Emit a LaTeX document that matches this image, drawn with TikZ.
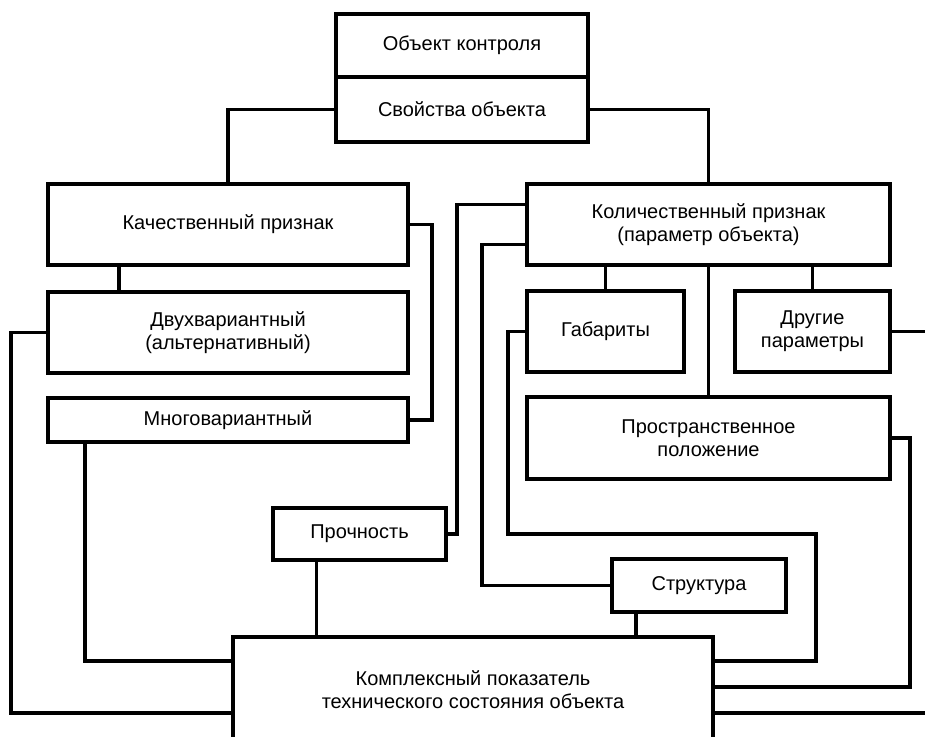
\documentclass[tikz,border=0pt]{standalone}
\usepackage{fontspec}
\setmainfont{Liberation Sans}
\usepackage{tikz}
\usetikzlibrary{positioning,calc}
\newcommand{\blkfont}{\fontsize{20}{23}\selectfont}
\tikzset{
  blknode/.style={draw, line width=3.6pt, inner sep=0pt, outer sep=0pt,
                  align=center, font=\blkfont},
  blkdim/.style 2 args={minimum width=#1pt, minimum height=#2pt},
  linkline/.style={line width=3.3pt, line join=miter},
}

\begin{document}
\begin{tikzpicture}[x=1pt, y=-1pt]
\useasboundingbox (0,0) rectangle (925,736);
\fill[white] (0,0) rectangle (925,736);
\clip (0,0) rectangle (925,736);
%% Top block
\node[blknode, blkdim={252}{63}] (obj) at (462,45.5) {Объект контроля};
\node[blknode, blkdim={252}{65}] (prop) at (462,109.5) {Свойства объекта};
%% Qualitative branch
\node[blknode, blkdim={360}{81}] (qual) at (228,224.5) {Качественный признак};
\node[blknode, blkdim={360}{81}] (dual) at (228,332.5) {Двухвариантный\\(альтернативный)};
\node[blknode, blkdim={360}{44}] (multi) at (228,420) {Многовариантный};
%% Quantitative branch
\node[blknode, blkdim={363}{81}] (quant) at (708.5,224.5) {Количественный признак\\(параметр объекта)};
\node[blknode, blkdim={157}{81}] (gab) at (605.5,331.5) {Габариты};
\node[blknode, blkdim={155}{81}] (other) at (812.5,331.5) {Другие\\параметры};
\node[blknode, blkdim={363}{82}] (space) at (708.5,438) {Пространственное\\положение};
%% Lower blocks
\node[blknode, blkdim={173}{52}] (strength) at (359.5,534) {Прочность};
\node[blknode, blkdim={174}{53}] (struct) at (699,585.5) {Структура};
\node[blknode, blkdim={480}{106}] (complex) at (473,690) {Комплексный показатель\\технического состояния объекта};
%% Links from the top block
\draw[linkline] (prop.west) -| (qual.north);
\draw[linkline] (prop.east) -| (quant.north);
%% Links of the qualitative branch
\draw[linkline] ([xshift=-109pt]qual.south) -- ([xshift=-109pt]dual.north);
\draw[linkline] (qual.east) -- ++(24,0) |- (multi.east);
\draw[linkline] (dual.west) -- ++(-37,0) |- ([yshift=-23pt]complex.west);
\draw[linkline] ([xshift=-143pt]multi.south) |- ([yshift=29pt]complex.west);
%% Links of the quantitative branch
\draw[linkline] (gab.north |- quant.south) -- (gab.north);
\draw[linkline] (other.north |- quant.south) -- (other.north);
\draw[linkline] (quant.south) -- (space.north);
\draw[linkline] ([yshift=20pt]quant.west) -- ++(-70,0) |- (strength.east);
\draw[linkline] ([yshift=-20pt]quant.west) -- ++(-45,0) |- (struct.west);
\draw[linkline] (gab.west) -- ++(-19,0) -- ++(0,202.5) -- ++(308,0) |- ([yshift=29pt]complex.east);
\draw[linkline] (space.east) -- ++(20,0) |- ([yshift=3pt]complex.east);
\draw[linkline] (other.east) -- ++(50,0) |- ([yshift=-23pt]complex.east);
%% Links into the complex index
\draw[linkline] ([xshift=-43pt]strength.south) -- ([xshift=-43pt]strength.south |- complex.north);
\draw[linkline] ([xshift=-63pt]struct.south) -- ([xshift=-63pt]struct.south |- complex.north);
\end{tikzpicture}
\end{document}
